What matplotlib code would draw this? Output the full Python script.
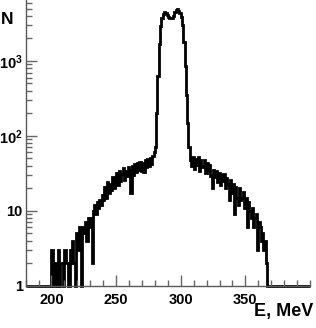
#!/usr/bin/env python3
"""Energy spectrum histogram (log scale), ROOT-like style."""

import matplotlib
matplotlib.use("Agg")
import matplotlib.pyplot as plt
from matplotlib.ticker import FixedLocator, FixedFormatter, MultipleLocator, LogLocator, NullFormatter
import numpy as np

# 1 MeV bins from 180 to 400 MeV
BIN_EDGES = np.arange(180, 401, 1)

COUNTS = [
    1, 1, 1, 1, 1, 1, 1, 1, 1, 1,                                   # 180-189
    1, 1, 1, 1, 1, 1, 1, 1, 1, 1,                                   # 190-199
    3, 1, 1, 2, 1, 3, 1, 2, 2, 1,                                   # 200-209
    3, 2, 2, 1, 3, 2, 4, 2, 1, 5,                                   # 210-219
    3, 6, 4, 1, 6, 5, 7, 4, 8, 6,                                   # 220-229
    8, 2, 10, 12, 9, 13, 11, 14, 12, 16,                            # 230-239
    14, 21, 15, 24, 17, 23, 19, 28, 20, 26,                         # 240-249
    32, 22, 34, 25, 31, 37, 26, 34, 29, 38,                         # 250-259
    35, 17, 39, 30, 42, 33, 44, 35, 45, 34,                         # 260-269
    44, 33, 47, 38, 49, 40, 51, 42, 54, 60,                         # 270-279
    70, 200, 620, 1700, 2900, 3700, 4200, 4450, 4350, 4050,         # 280-289
    3900, 3750, 3700, 3750, 4000, 4450, 4800, 4900, 4700, 4300,     # 290-299
    3800, 3000, 1800, 850, 350, 150, 70, 48, 40, 52,                # 300-309
    36, 49, 41, 52, 34, 47, 38, 40, 48, 32,                         # 310-319
    44, 35, 41, 29, 20, 35, 28, 34, 24, 32,                         # 320-329
    22, 30, 25, 31, 20, 27, 23, 14, 26, 17,                         # 330-339
    23, 9, 21, 15, 12, 20, 14, 15, 18, 11,                          # 340-349
    15, 6, 13, 10, 8, 11, 6, 8, 9, 3,                               # 350-359
    7, 6, 4, 5, 3, 4, 2, 1, 1, 1,                                   # 360-369
    1, 1, 1, 1, 1, 1, 1, 1, 1, 1,                                   # 370-379
    1, 1, 1, 1, 1, 1, 1, 1, 1, 1,                                   # 380-389
    1, 1, 1, 1, 1, 1, 1, 1, 1, 1,                                   # 390-399
]

X_TICKS = [200, 250, 300, 350]
Y_TICKS = [1, 10, 100, 1000]
Y_TICK_LABELS = ["1", "10", r"$\mathbf{10^{2}}$", r"$\mathbf{10^{3}}$"]


def main():
    plt.rcParams.update({
        "font.family": ["Liberation Sans", "DejaVu Sans"],
        "font.weight": "bold",
        "mathtext.fontset": "custom",
        "mathtext.rm": "Liberation Sans:bold",
        "mathtext.bf": "Liberation Sans:bold",
        "mathtext.it": "Liberation Sans:bold",
    })

    fig = plt.figure(figsize=(3.16, 3.28), dpi=100)
    ax = fig.add_axes([0.081, 0.129, 0.900, 0.871])

    ax.stairs(COUNTS, BIN_EDGES, baseline=None, color="black",
              linewidth=2.0, clip_on=False)

    ax.set_yscale("log")
    ax.set_xlim(180, 400)
    ax.set_ylim(1, 6500)

    for side in ["top", "right"]:
        ax.spines[side].set_visible(False)
    for side in ["left", "bottom"]:
        ax.spines[side].set_color("0.35")
        ax.spines[side].set_linewidth(1.0)

    ax.xaxis.set_major_locator(FixedLocator(X_TICKS))
    ax.xaxis.set_minor_locator(MultipleLocator(10))
    ax.yaxis.set_major_locator(FixedLocator(Y_TICKS))
    ax.yaxis.set_major_formatter(FixedFormatter(Y_TICK_LABELS))
    ax.yaxis.set_minor_locator(LogLocator(base=10, subs=np.arange(2, 10)))
    ax.yaxis.set_minor_formatter(NullFormatter())

    ax.tick_params(which="major", direction="in", length=8, width=1, color="0.4",
                   labelsize=10.5)
    ax.tick_params(which="minor", direction="in", length=4, width=1, color="0.4")
    ax.tick_params(axis="x", which="major", pad=5)
    ax.tick_params(axis="y", which="major", pad=2)
    for lbl in ax.get_xticklabels() + ax.get_yticklabels():
        lbl.set_fontweight("bold")

    fig.text(0.003, 1 - 24 / 328, "N", ha="left", va="baseline",
             fontsize=12.5, fontweight="bold")
    fig.text(313 / 316, 1 - 316 / 328, "E, MeV", ha="right", va="baseline",
             fontsize=13, fontweight="bold")

    fig.savefig("out.png", dpi=100)
    plt.close(fig)


if __name__ == "__main__":
    main()
